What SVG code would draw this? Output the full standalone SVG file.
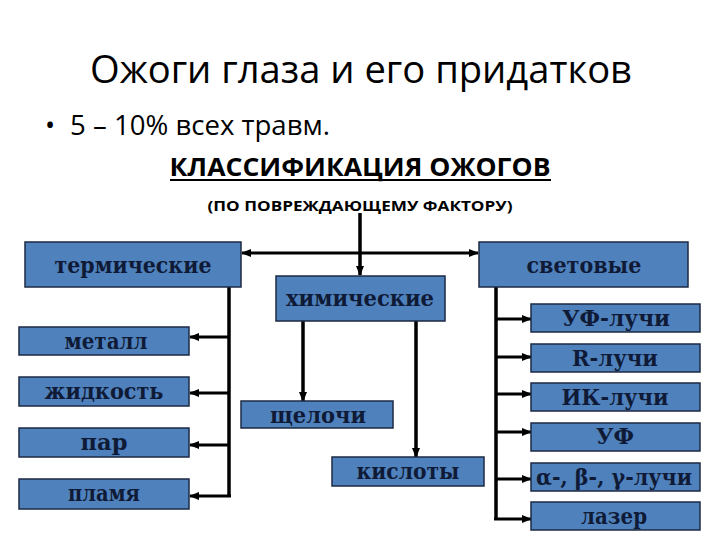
<svg xmlns="http://www.w3.org/2000/svg" width="720" height="540" viewBox="0 0 720 540">
<style>
.box{fill:#4f81bd;stroke:#1c2a44;stroke-width:1.5}
.lbl{font-family:"DejaVu Serif","Liberation Serif",serif;font-weight:bold;font-size:23px;fill:#0f1b36;text-anchor:middle}
.sm{font-size:22px}
.ln{fill:none;stroke:#000;stroke-width:3.5}
.ar{fill:none;stroke:#000;stroke-width:3}
.hd{font-family:"Open Sans","Liberation Sans",sans-serif;fill:#000}
</style>
<defs>
<marker id="ah" markerUnits="userSpaceOnUse" markerWidth="10" markerHeight="10" refX="9" refY="5" orient="auto">
<path d="M0,1 L10,5 L0,9 Z" fill="#000"/>
</marker>
<marker id="ahs" markerUnits="userSpaceOnUse" markerWidth="10" markerHeight="10" refX="1" refY="5" orient="auto">
<path d="M10,1 L0,5 L10,9 Z" fill="#000"/>
</marker>
</defs>
<rect width="720" height="540" fill="#fff"/>

<g id="title">
<text class="hd" x="361" y="83" font-size="39" text-anchor="middle" textLength="542" lengthAdjust="spacingAndGlyphs">Ожоги глаза и его придатков</text>
<text class="hd" x="45" y="135" font-size="27">•</text>
<text class="hd" x="70" y="135" font-size="27" textLength="260" lengthAdjust="spacingAndGlyphs">5 – 10% всех травм.</text>
<text class="hd" x="360" y="176" font-size="25" font-weight="bold" text-anchor="middle" textLength="381" lengthAdjust="spacingAndGlyphs">КЛАССИФИКАЦИЯ ОЖОГОВ</text>
<line x1="170" y1="180" x2="551" y2="180" stroke="#000" stroke-width="2"/>
<text class="hd" x="360" y="211" font-size="15" font-weight="bold" text-anchor="middle" textLength="305" lengthAdjust="spacingAndGlyphs">(ПО ПОВРЕЖДАЮЩЕМУ ФАКТОРУ)</text>
</g>

<g id="connectors">
<line class="ln" x1="360" y1="213" x2="360" y2="275" marker-end="url(#ah)"/>
<line class="ar" x1="242" y1="253" x2="478" y2="253" marker-start="url(#ahs)" marker-end="url(#ah)"/>
<polyline class="ln" points="229,287 229,496"/>
<line class="ar" x1="229" y1="337" x2="190" y2="337" marker-end="url(#ah)"/>
<line class="ar" x1="229" y1="393" x2="190" y2="393" marker-end="url(#ah)"/>
<line class="ar" x1="229" y1="445" x2="190" y2="445" marker-end="url(#ah)"/>
<line class="ar" x1="231" y1="496" x2="190" y2="496" marker-end="url(#ah)"/>
<line class="ln" x1="303" y1="321" x2="303" y2="401" marker-end="url(#ah)"/>
<line class="ln" x1="416" y1="321" x2="416" y2="457" marker-end="url(#ah)"/>
<polyline class="ln" points="496,287 496,519"/>
<line class="ar" x1="496" y1="319" x2="531" y2="319" marker-end="url(#ah)"/>
<line class="ar" x1="496" y1="357" x2="531" y2="357" marker-end="url(#ah)"/>
<line class="ar" x1="496" y1="394" x2="531" y2="394" marker-end="url(#ah)"/>
<line class="ar" x1="496" y1="432" x2="531" y2="432" marker-end="url(#ah)"/>
<line class="ar" x1="496" y1="479" x2="531" y2="479" marker-end="url(#ah)"/>
<line class="ar" x1="494" y1="519" x2="531" y2="519" marker-end="url(#ah)"/>
</g>

<g id="thermal"><rect class="box" x="25" y="242" width="216" height="45"/><text class="lbl" x="133" y="273" textLength="157" lengthAdjust="spacingAndGlyphs">термические</text></g>
<g id="light"><rect class="box" x="479" y="242" width="209" height="45"/><text class="lbl" x="584" y="273" textLength="115" lengthAdjust="spacingAndGlyphs">световые</text></g>
<g id="chemical"><rect class="box" x="276" y="276" width="169" height="45"/><text class="lbl" x="360" y="306" textLength="148" lengthAdjust="spacingAndGlyphs">химические</text></g>

<g id="metal"><rect class="box" x="19" y="327" width="170" height="28"/><text class="lbl sm" x="106" y="349" textLength="83" lengthAdjust="spacingAndGlyphs">металл</text></g>
<g id="liquid"><rect class="box" x="19" y="377" width="170" height="29"/><text class="lbl sm" x="104" y="399" textLength="119" lengthAdjust="spacingAndGlyphs">жидкость</text></g>
<g id="steam"><rect class="box" x="19" y="428" width="170" height="29"/><text class="lbl sm" x="104" y="450" textLength="47" lengthAdjust="spacingAndGlyphs">пар</text></g>
<g id="flame"><rect class="box" x="19" y="479" width="170" height="30"/><text class="lbl sm" x="104" y="501" textLength="72" lengthAdjust="spacingAndGlyphs">пламя</text></g>

<g id="alkali"><rect class="box" x="241" y="401" width="152" height="27"/><text class="lbl sm" x="318" y="423" textLength="96" lengthAdjust="spacingAndGlyphs">щелочи</text></g>
<g id="acids"><rect class="box" x="332" y="457" width="152" height="29"/><text class="lbl sm" x="408" y="479" textLength="103" lengthAdjust="spacingAndGlyphs">кислоты</text></g>

<g id="uv-rays"><rect class="box" x="531" y="304" width="169" height="28"/><text class="lbl sm" x="616" y="326" textLength="108" lengthAdjust="spacingAndGlyphs">УФ-лучи</text></g>
<g id="r-rays"><rect class="box" x="531" y="344" width="169" height="28"/><text class="lbl sm" x="615" y="366" textLength="86" lengthAdjust="spacingAndGlyphs">R-лучи</text></g>
<g id="ir-rays"><rect class="box" x="531" y="383" width="169" height="28"/><text class="lbl sm" x="615" y="405" textLength="107" lengthAdjust="spacingAndGlyphs">ИК-лучи</text></g>
<g id="uv"><rect class="box" x="531" y="423" width="169" height="28"/><text class="lbl sm" x="615" y="444" textLength="38" lengthAdjust="spacingAndGlyphs">УФ</text></g>
<g id="abg-rays"><rect class="box" x="531" y="463" width="169" height="28"/><text class="lbl sm" x="614" y="485" font-weight="normal" textLength="156" lengthAdjust="spacingAndGlyphs">α-, β-, γ-лучи</text></g>
<g id="laser"><rect class="box" x="531" y="502" width="169" height="28"/><text class="lbl sm" x="614" y="524" textLength="66" lengthAdjust="spacingAndGlyphs">лазер</text></g>
</svg>
